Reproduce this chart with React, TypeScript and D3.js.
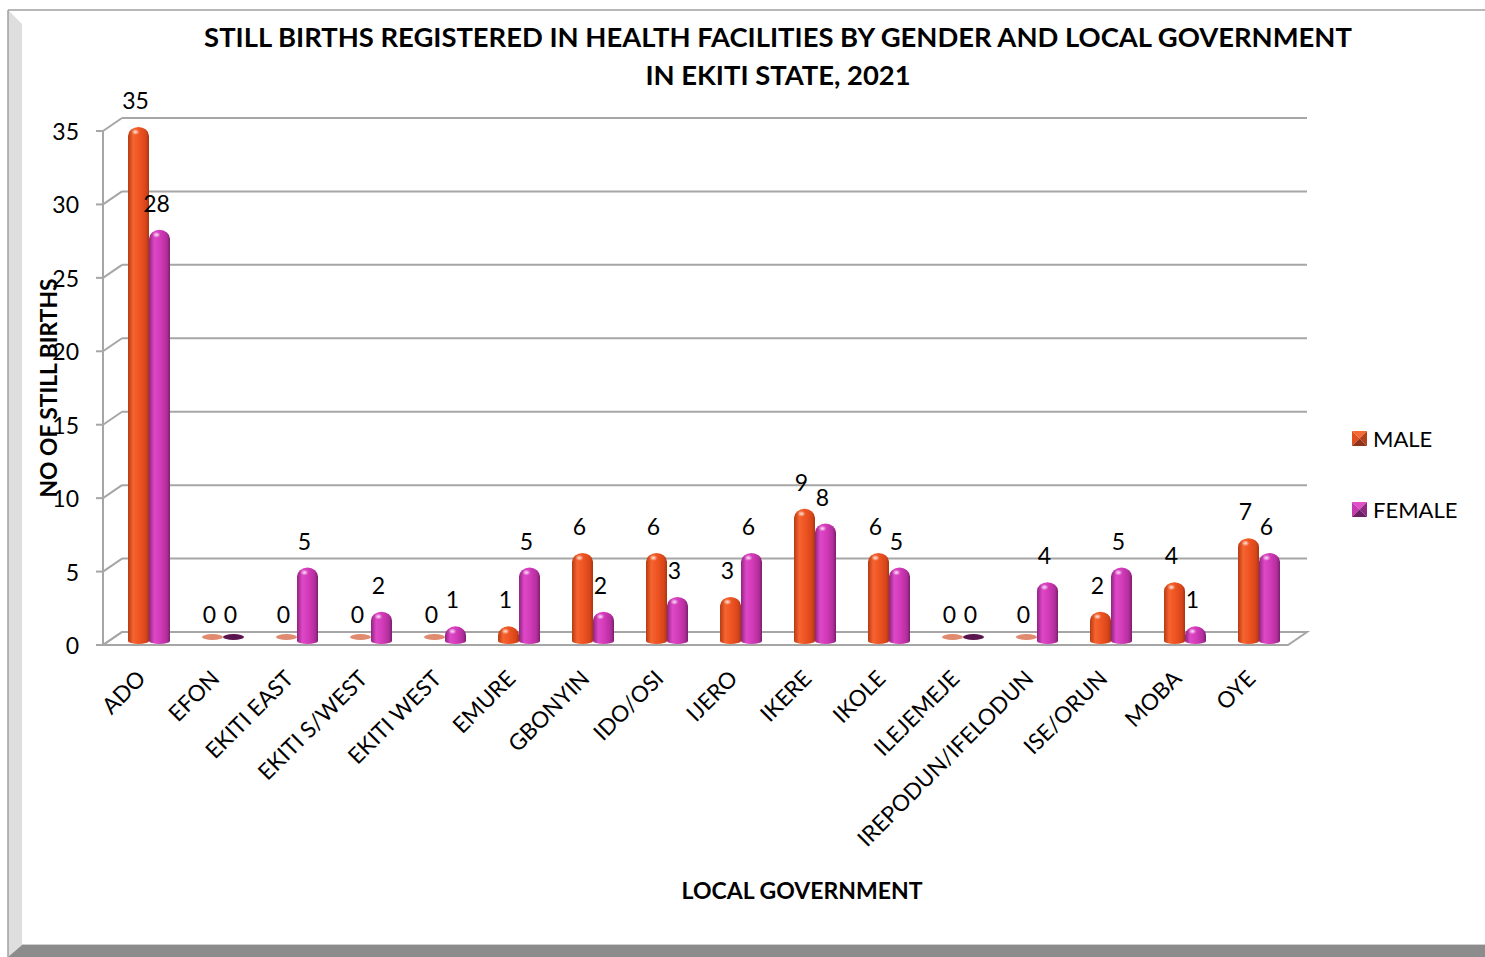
import * as d3 from "d3";

// chart data
const lgas = [
  "ADO", "EFON", "EKITI EAST", "EKITI S/WEST", "EKITI WEST", "EMURE", "GBONYIN", "IDO/OSI",
  "IJERO", "IKERE", "IKOLE", "ILEJEMEJE", "IREPODUN/IFELODUN", "ISE/ORUN", "MOBA", "OYE",
];
const male = [35, 0, 0, 0, 0, 1, 6, 6, 3, 9, 6, 0, 0, 2, 4, 7];
const female = [28, 0, 5, 2, 1, 5, 2, 3, 6, 8, 5, 0, 4, 5, 1, 6];
const yTicks = [0, 5, 10, 15, 20, 25, 30, 35];
const titleLines = [
  "STILL BIRTHS REGISTERED IN HEALTH FACILITIES BY GENDER AND LOCAL GOVERNMENT",
  "IN EKITI STATE, 2021",
];

const W = 1485;
const H = 957;
const FONT = "Lato, 'Open Sans', sans-serif";

// 3d box: front plane and depth offset
const front = { left: 103, right: 1288, base: 645 };
const depth = { dx: 19, dy: -13 };
const barBase = 641;

const yAxis = d3.scaleLinear().domain([0, 35]).range([front.base, 131]);
const yBar = d3.scaleLinear().domain([0, 35]).range([barBase, 127]);
const x = d3.scaleBand<string>().domain(lgas).range([112, 1296]);

const series = [
  { name: "MALE", values: male, grad: "gMale", zero: "#e08a70", offset: -10.5,
    tri: ["#f26a36", "#e0501f", "#b2401c", "#8f341a"] },
  { name: "FEMALE", values: female, grad: "gFemale", zero: "#5a1450", offset: 10.5,
    tri: ["#e050c8", "#c83bb0", "#8e2a80", "#6c1f62"] },
];

function cylinder(cx: number, top: number, w: number) {
  const r = w / 2;
  const h = barBase - top;
  const ry = Math.min(r * 0.85, h);
  return `M${cx - r},${barBase} L${cx - r},${top + ry} A${r},${ry} 0 0 1 ${cx + r},${top + ry} L${cx + r},${barBase} A${r},3 0 0 1 ${cx - r},${barBase} Z`;
}

export default function App() {
  const bw = 21;
  const centre = (c: string) => (x(c) ?? 0) + x.bandwidth() / 2;

  return (
    <svg width={W} height={H} style={{ position: "absolute", left: 0, top: 0 }} fontFamily={FONT}>
      <defs>
        <linearGradient id="gMale" x1="0" x2="1" y1="0" y2="0">
          <stop offset="0" stopColor="#b83a12" />
          <stop offset="0.25" stopColor="#f56430" />
          <stop offset="0.55" stopColor="#ee5322" />
          <stop offset="0.85" stopColor="#d8461a" />
          <stop offset="1" stopColor="#a8360f" />
        </linearGradient>
        <linearGradient id="gFemale" x1="0" x2="1" y1="0" y2="0">
          <stop offset="0" stopColor="#8e2480" />
          <stop offset="0.25" stopColor="#de48c6" />
          <stop offset="0.55" stopColor="#d23ab8" />
          <stop offset="0.85" stopColor="#b22e9c" />
          <stop offset="1" stopColor="#7a1e6c" />
        </linearGradient>
        <radialGradient id="gShine">
          <stop offset="0" stopColor="#ffffff" stopOpacity="0.85" />
          <stop offset="1" stopColor="#ffffff" stopOpacity="0" />
        </radialGradient>
      </defs>

      {/* frame */}
      <rect x={8} y={10} width={W - 8} height={H - 10} fill="#fff" />
      <polygon points={`8,10 22,24 22,945 8,957`} fill="#dedede" />
      <polygon points={`8,957 22,945 ${W},945 ${W},957`} fill="#8c8c8c" />
      <line x1={22} x2={W} y1={944.5} y2={944.5} stroke="#cfcfcf" />
      <line x1={8} x2={W} y1={10} y2={10} stroke="#a0a0a0" strokeWidth={1.5} />
      <line x1={8} x2={8} y1={10} y2={957} stroke="#a0a0a0" strokeWidth={1.5} />

      {/* title */}
      {titleLines.map((t, i) => (
        <text key={t} x={778} y={36 + i * 38} textAnchor="middle" dominantBaseline="central"
          fontSize={27.4} fontWeight="bold" fill="#000">{t}</text>
      ))}

      {/* walls and grid */}
      <g stroke="#a6a6a6" strokeWidth={2} fill="none">
        {yTicks.map((t) => (
          <g key={t}>
            <line x1={front.left} y1={yAxis(t)} x2={front.left + depth.dx} y2={yAxis(t) + depth.dy} />
            <line x1={front.left + depth.dx} y1={yAxis(t) + depth.dy} x2={front.right + depth.dx} y2={yAxis(t) + depth.dy} />
            <line x1={front.left - 7} y1={yAxis(t)} x2={front.left} y2={yAxis(t)} />
          </g>
        ))}
        <line x1={front.left} x2={front.left} y1={yAxis(35)} y2={yAxis(0)} />
        <polygon points={`${front.left},${front.base} ${front.right},${front.base} ${front.right + depth.dx},${front.base + depth.dy} ${front.left + depth.dx},${front.base + depth.dy}`} />
      </g>

      {/* y tick labels */}
      {yTicks.map((t) => (
        <text key={t} x={79} y={yAxis(t)} textAnchor="end" dominantBaseline="central" fontSize={23} fill="#000">{t}</text>
      ))}

      {/* bars */}
      {lgas.map((c, i) => (
        <g key={c}>
          {series.map((s) => {
            const v = s.values[i];
            const cx = centre(c) + s.offset;
            const top = yBar(v);
            return (
              <g key={s.name}>
                {v === 0 ? (
                  <ellipse cx={cx} cy={637} rx={bw / 2} ry={3} fill={s.zero} />
                ) : (
                  <>
                    <path d={cylinder(cx, top, bw)} fill={`url(#${s.grad})`} />
                    <ellipse cx={cx - 3} cy={top + 5} rx={4} ry={3} fill="url(#gShine)" />
                  </>
                )}
                <text x={cx - 3} y={top - 27} textAnchor="middle" dominantBaseline="central" fontSize={23} fill="#000">{v}</text>
              </g>
            );
          })}
        </g>
      ))}

      {/* x tick labels */}
      {lgas.map((c) => (
        <text key={c} transform={`translate(${centre(c) - 2},680) rotate(-45)`} textAnchor="end"
          fontSize={22.5} fill="#000">{c}</text>
      ))}

      {/* axis titles */}
      <text x={802} y={890} textAnchor="middle" dominantBaseline="central" fontSize={23} fontWeight="bold">LOCAL GOVERNMENT</text>
      <text transform="translate(48,388) rotate(-90)" textAnchor="middle" dominantBaseline="central" fontSize={22.8} fontWeight="bold">NO OF STILL BIRTHS</text>

      {/* legend */}
      {series.map((s, i) => {
        const lx = 1352;
        const ly = 431 + i * 71;
        const m = 7.5;
        return (
          <g key={s.name}>
            <polygon points={`${lx},${ly} ${lx + 15},${ly} ${lx + m},${ly + m}`} fill={s.tri[0]} />
            <polygon points={`${lx},${ly} ${lx},${ly + 15} ${lx + m},${ly + m}`} fill={s.tri[1]} />
            <polygon points={`${lx + 15},${ly} ${lx + 15},${ly + 15} ${lx + m},${ly + m}`} fill={s.tri[2]} />
            <polygon points={`${lx},${ly + 15} ${lx + 15},${ly + 15} ${lx + m},${ly + m}`} fill={s.tri[3]} />
            <text x={1373} y={ly + 7} dominantBaseline="central" fontSize={22}>{s.name}</text>
          </g>
        );
      })}
    </svg>
  );
}
